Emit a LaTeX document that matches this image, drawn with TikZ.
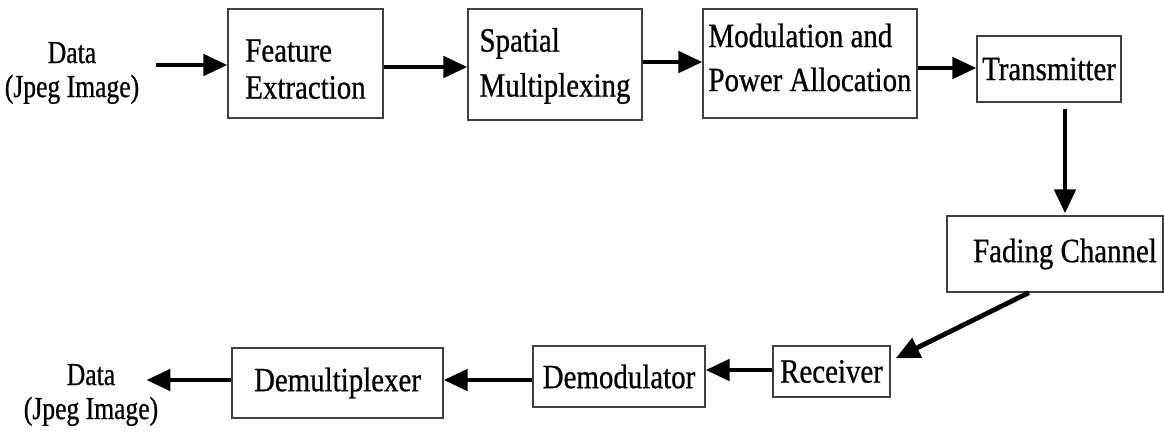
\documentclass[tikz,border=0pt]{standalone}
\usepackage{fontspec}
\setmainfont{Liberation Serif}[FakeStretch=0.85,FakeBold=0.7]
\newfontfamily\lblfont{Liberation Serif}[FakeStretch=0.8,FakeBold=0.7]
\usetikzlibrary{arrows.meta}
\newcommand{\boxtxt}[2]{\raisebox{#1}[\height][\depth]{\begin{tabular}{@{}l@{}}#2\end{tabular}}}
\begin{document}
\begin{tikzpicture}[x=1pt,y=-1pt,
  box/.style={draw=black!75, line width=1.2pt, inner sep=0pt, align=left,
    font=\fontsize{34}{38}\selectfont},
  lbl/.style={inner sep=0pt, align=center, font=\lblfont\fontsize{32}{36}\selectfont},
  arr/.style={line width=4.8pt, -{Triangle[length=24pt,width=21pt]}}]
\useasboundingbox (0,0) rectangle (1164,434);
% blocks
\node[box, minimum width=155pt, minimum height=109pt] (fe)  at (305.5,63.5) {\boxtxt{-9pt}{Feature\\[-1pt]Extraction}};
\node[box, minimum width=174pt, minimum height=111pt] (sm)  at (555,64.5)   {\boxtxt{-2pt}{Spatial\\[7pt]Multiplexing}};
\node[box, minimum width=214pt, minimum height=109pt] (mod) at (810,63.5)   {\boxtxt{2pt}{Modulation and\\[6pt]Power Allocation}};
\node[box, minimum width=144pt, minimum height=66pt]  (tx)  at (1049,69)    {Transmitter};
\node[box, minimum width=216pt, minimum height=76pt]  (fc)  at (1055,254)   {\hspace{20pt}Fading Channel};
\node[box, minimum width=117pt, minimum height=51pt]  (rx)  at (831.5,371.5){Receiver};
\node[box, minimum width=172pt, minimum height=61pt]  (dm)  at (619,376.5)  {Demodulator};
\node[box, minimum width=211pt, minimum height=70pt]  (dx)  at (337.5,383)  {Demultiplexer};
% labels
\node[lbl] (din)  at (72,73)  {Data\\[-2pt](Jpeg Image)};
\node[lbl] (dout) at (91,395) {Data\\[-2pt](Jpeg Image)};
% free ends
\coordinate (dinout) at ([xshift=-71pt,yshift=-1.5pt]fe.west);
\coordinate (doutin) at ([xshift=-85pt,yshift=3pt]dx.west);
% connectors
\draw[arr] (dinout) -- ([yshift=-1.5pt]fe.west);
\draw[arr] ([yshift=-3.5pt]fe.east) -- ([yshift=-2.5pt]sm.west);
\draw[arr] ([yshift=2.5pt]sm.east) -- ([yshift=1.5pt]mod.west);
\draw[arr] ([yshift=-4.5pt]mod.east) -- ([yshift=1pt]tx.west);
\draw[arr] ([xshift=16pt,yshift=-6pt]tx.south) -- ([xshift=10pt,yshift=2pt]fc.north);
\draw[arr] ([xshift=-26pt]fc.south) -- ([xshift=5pt,yshift=-13pt]rx.north east);
\draw[arr] ([yshift=1.5pt]rx.west) -- ([yshift=6.5pt]dm.east);
\draw[arr] ([yshift=-3.5pt]dm.west) -- ([yshift=3pt]dx.east);
\draw[arr] ([yshift=3pt]dx.west) -- (doutin);
\end{tikzpicture}
\end{document}
